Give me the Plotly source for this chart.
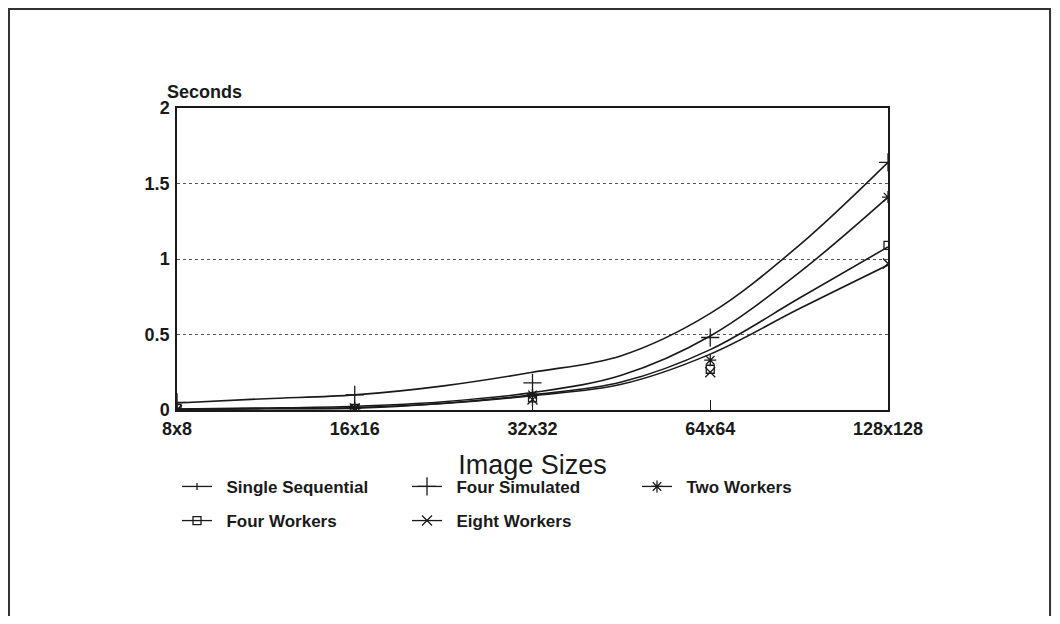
import plotly.graph_objects as go

# Categories (x positions 0..4)
categories = ["8x8", "16x16", "32x32", "64x64", "128x128"]
cat_pos = [0, 1, 2, 3, 4]

# Measured data points (markers), seconds
single_sequential = [0.0, 0.01, 0.05, None, None]
four_simulated = [0.05, 0.10, 0.18, 0.48, 1.64]
two_workers = [0.0, 0.01, 0.10, 0.33, 1.41]
four_workers = [0.01, 0.01, 0.08, 0.27, 1.09]
eight_workers = [0.0, 0.01, 0.07, 0.25, 0.97]

# Fitted curves as drawn on the chart (read at half-category steps)
curve_pos = [0, 0.5, 1, 1.5, 2, 2.5, 3, 3.5, 4]
curve_four_simulated = [0.046, 0.075, 0.10, 0.16, 0.25, 0.36, 0.64, 1.09, 1.64]
curve_two_workers = [0.007, 0.013, 0.025, 0.055, 0.115, 0.23, 0.49, 0.91, 1.41]
curve_four_workers = [0.005, 0.01, 0.016, 0.045, 0.10, 0.185, 0.40, 0.74, 1.08]
curve_eight_workers = [0.003, 0.008, 0.012, 0.043, 0.095, 0.17, 0.37, 0.67, 0.96]

y_ticks = [0, 0.5, 1, 1.5, 2]
y_ticktext = ["0", "0.5", "1", "1.5", "2"]

INK = "#1a1a1a"
FONT = "Liberation Sans, Arial, sans-serif"
PAD = "\u00a0\u00a0"

series = [
    ("Single Sequential", single_sequential, None, dict(symbol="line-ns", size=5), "legend"),
    ("Four Simulated", four_simulated, curve_four_simulated, dict(symbol="cross-thin", size=13), "legend"),
    ("Two Workers", two_workers, curve_two_workers, dict(symbol="asterisk", size=10), "legend"),
    ("Four Workers", four_workers, curve_four_workers, dict(symbol="square-open", size=8), "legend2"),
    ("Eight Workers", eight_workers, curve_eight_workers, dict(symbol="x-thin", size=10), "legend2"),
]

fig = go.Figure()
for name, pts, curve, mk, leg in series:
    marker = dict(color=INK, line=dict(color=INK, width=1.3), **mk)
    if curve is not None:
        fig.add_trace(go.Scatter(
            x=curve_pos, y=curve, mode="lines", line=dict(color=INK, width=1.6, shape="spline"),
            showlegend=False, hoverinfo="skip"))
    fig.add_trace(go.Scatter(
        x=cat_pos, y=pts, mode="markers", marker=marker, showlegend=False, name=name))
    # legend entry (line + symbol)
    fig.add_trace(go.Scatter(
        x=[None], y=[None], mode="lines+markers", name=PAD + name, marker=marker,
        line=dict(color=INK, width=1.3), legend=leg))

legend_common = dict(
    orientation="h", x=0.0, xanchor="left", yanchor="top",
    entrywidth=185, entrywidthmode="pixels",
    font=dict(size=17, family=FONT, weight="bold", color=INK),
    bgcolor="rgba(0,0,0,0)",
)

fig.update_layout(
    width=1044, height=608,
    paper_bgcolor="white", plot_bgcolor="white",
    margin=dict(l=169, r=164, t=100, b=206),
    font=dict(family=FONT, color=INK),
    xaxis=dict(
        range=[0, 4], tickvals=cat_pos, ticktext=categories,
        showgrid=False, zeroline=False,
        showline=True, linecolor=INK, linewidth=1.5, mirror=True,
        ticks="inside", ticklen=10, tickcolor=INK, tickwidth=1,
        ticklabelstandoff=2,
        tickfont=dict(size=18, family=FONT, weight="bold", color=INK),
        title=dict(text="Image Sizes", font=dict(size=27, family=FONT, color=INK), standoff=17),
    ),
    yaxis=dict(
        range=[0, 2], tickvals=y_ticks, ticktext=y_ticktext,
        showgrid=True, gridcolor="#555555", griddash="dot", gridwidth=1,
        zeroline=False,
        showline=True, linecolor=INK, linewidth=1.5, mirror=True,
        ticks="", ticklabelstandoff=2,
        tickfont=dict(size=18, family=FONT, weight="bold", color=INK),
    ),
    legend=dict(y=-0.195, **legend_common),
    legend2=dict(y=-0.308, **legend_common),
    annotations=[
        dict(text="Seconds", xref="paper", yref="paper", x=-0.017, y=1.014,
             xanchor="left", yanchor="bottom", showarrow=False,
             font=dict(size=18, family=FONT, weight="bold", color=INK)),
    ],
    shapes=[
        dict(type="rect", xref="paper", yref="paper",
             x0=-0.2363, x1=1.2279, y0=-0.72, y1=1.3278,
             line=dict(color="#333333", width=2), fillcolor="rgba(0,0,0,0)", layer="below"),
    ],
)

fig.write_html("out.html")
